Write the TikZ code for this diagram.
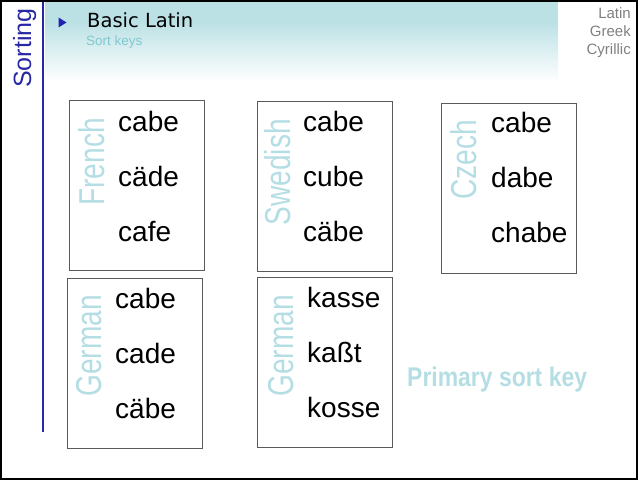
\documentclass[tikz,border=0pt]{standalone}
\usepackage{fontspec}
\setmainfont{Liberation Sans}
\newfontfamily\titlefont{DejaVu Sans}
\newfontfamily\narrowfont[FakeStretch=0.78]{Liberation Sans}
\newfontfamily\keyfont[FakeStretch=0.85]{Liberation Sans}

\definecolor{bandcyan}{RGB}{188,225,229}
\definecolor{sortblue}{RGB}{40,40,165}
\definecolor{labelblue}{RGB}{180,222,228}
\definecolor{subteal}{RGB}{128,200,208}
\definecolor{boxgray}{RGB}{90,90,90}

\newcommand*\boxwidth{135pt}
\newcommand*\boxheight{170pt}
\tikzset{sortbox/.style 2 args={
    draw=boxgray,
    line width=1pt,
    rectangle,
    anchor=north west,
    inner sep=0pt,
    minimum width=#1,
    minimum height=#2
}}
\tikzset{word/.style={
    anchor=base west,
    inner sep=0pt,
    font=\fontsize{28}{32}\selectfont
}}
\tikzset{lang/.style={
    rotate=90,
    anchor=base east,
    inner sep=0pt,
    text=labelblue,
    font=\narrowfont\fontsize{36}{40}\selectfont
}}
\tikzset{scriptname/.style={
    anchor=base east,
    inner sep=0pt,
    text=black!50,
    font=\fontsize{15}{18}\selectfont
}}

\begin{document}
\begin{tikzpicture}[x=1pt,y=-1pt]

    \useasboundingbox (0,0) rectangle (640,481);

    % Header band and side bar.
    \fill[bandcyan] (45,2) rectangle (558,22);
    \shade[top color=bandcyan, bottom color=white] (45,22) rectangle (558,82);
    \draw[sortblue, line width=2.5pt] (43,2) -- (43,432);
    \fill[sortblue!85!blue] (58.5,17.5) -- (66.5,22.5) -- (58.5,27.5) -- cycle;

    \node[rotate=90, anchor=base west, inner sep=0pt, text=sortblue,
        font=\fontsize{25}{28}\selectfont] (sorting) at (31,88) {Sorting};
    \node[anchor=base west, inner sep=0pt, font=\titlefont\fontsize{19.5}{22}\selectfont]
        (title) at (87,28) {Basic Latin};
    \node[anchor=base west, inner sep=0pt, text=subteal,
        font=\fontsize{13.5}{16}\selectfont] (subtitle) at (86,46) {Sort keys};

    % Scripts in the top right corner.
    \node[scriptname] (latin) at (631,18.3) {Latin};
    \node[scriptname] (greek) at (631,36.7) {Greek};
    \node[scriptname] (cyrillic) at (631,55) {Cyrillic};

    % French
    \node[sortbox={\boxwidth}{\boxheight}] (french) at (69,100) {};
    \node[lang] (frenchlabel) at (104,118) {French};
    \foreach \w [count=\i] in {cabe,cäde,cafe}
        \node[word] (french\i) at (118,{77+55*\i}) {\w};

    % Swedish
    \node[sortbox={\boxwidth}{\boxheight}] (swedish) at (257,101) {};
    \node[lang] (swedishlabel) at (290,119) {Swedish};
    \foreach \w [count=\i] in {cabe,cube,cäbe}
        \node[word] (swedish\i) at (303,{77+55*\i}) {\w};

    % Czech
    \node[sortbox={\boxwidth}{\boxheight}] (czech) at (441,103) {};
    \node[lang] (czechlabel) at (476,120) {Czech};
    \foreach \w [count=\i] in {cabe,dabe,chabe}
        \node[word] (czech\i) at (491,{78+55*\i}) {\w};

    % German, umlaut
    \node[sortbox={\boxwidth}{\boxheight}] (germana) at (67,278) {};
    \node[lang] (germanalabel) at (101,295) {German};
    \foreach \w [count=\i] in {cabe,cade,cäbe}
        \node[word] (germana\i) at (115,{253+55*\i}) {\w};

    % German, sharp s
    \node[sortbox={\boxwidth}{\boxheight}] (germanb) at (257,277) {};
    \node[lang] (germanblabel) at (293,295) {German};
    \foreach \w [count=\i] in {kasse,kaßt,kosse}
        \node[word] (germanb\i) at (307,{252+55*\i}) {\w};

    \node[anchor=base west, inner sep=0pt, text=labelblue,
        font=\keyfont\bfseries\fontsize{27}{30}\selectfont] (primary) at (407,386) {Primary sort key};

    % Frame round the slide.
    \draw[line width=1.5pt] (1,1) rectangle (637,479);

\end{tikzpicture}
\end{document}
